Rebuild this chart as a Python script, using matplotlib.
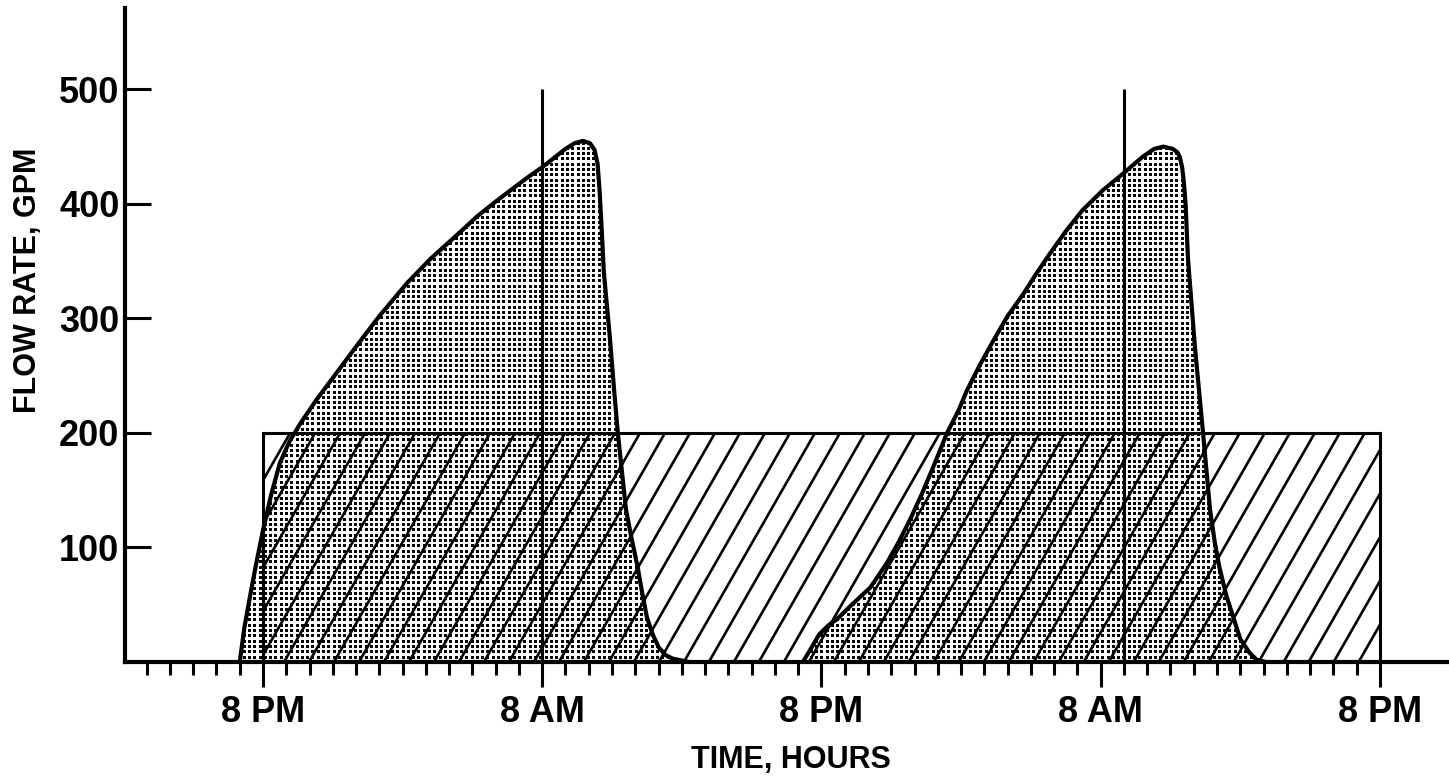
import numpy as np
import matplotlib
matplotlib.use("Agg")
import matplotlib.pyplot as plt
from matplotlib.patches import Rectangle

# Time axis in hours, measured from 8 PM of the first evening
hours_a = [-1.0, -0.8, -0.56, -0.3, 0.0, 0.35, 0.73, 1.15, 1.6, 2.3, 3.0, 4.1,
           5.0, 6.2, 7.2, 8.4, 9.2, 10.0, 11.3, 12.0, 12.5, 13.0, 13.4, 13.75,
           14.05, 14.25, 14.38, 14.47, 14.55, 14.65, 14.9, 15.1, 15.25, 15.6,
           15.85, 16.1, 16.3, 16.5, 16.75, 17.0, 17.3, 17.6, 18.3]
flow_a = [0, 30, 57, 85, 115, 146, 174, 193, 208, 229, 248, 278,
          302, 331, 352, 374, 389, 402, 422, 432, 440, 448, 453, 455,
          453, 447, 435, 410, 380, 340, 285, 235, 200, 133,
          107, 83, 60, 39, 24, 13, 6, 3, 0]

hours_b = [23.2, 23.5, 23.9, 24.3, 24.7, 25.2, 26.1, 26.8, 27.3, 27.8, 28.3,
           28.8, 29.4, 29.9, 30.25, 30.8, 31.4, 32.0, 32.7, 33.2, 33.8, 34.5,
           35.2, 36.1, 37.0, 37.8, 38.3, 38.7, 39.1, 39.3, 39.4, 39.5, 39.57,
           39.65, 39.75, 40.05, 40.4, 40.7, 40.9, 41.1, 41.4, 41.7, 42.0,
           42.4, 42.7, 43.1]
flow_b = [0, 10, 24, 32, 38, 48, 65, 86, 104, 124, 146,
          170, 200, 220, 237, 259, 281, 302, 322, 338, 356, 376,
          394, 412, 427, 441, 448, 450, 448, 445, 441, 432, 420,
          400, 353, 275, 200, 133, 105, 83, 58, 39, 20,
          8, 2, 0]

# constant pumping rate over two days
pump_start, pump_end, pump_rate = 0, 48, 200

# reference verticals (hours) and their height
marker_hours = [12, 37]
marker_top = 500

major_ticks = [0, 12, 24, 36, 48]
major_labels = ["8 PM", "8 AM", "8 PM", "8 AM", "8 PM"]
minor_ticks = list(range(-5, 49))
y_ticks = [100, 200, 300, 400, 500]
y_labels = ["100", "200", "300", "400", "500"]

W, H, DPI = 1449, 783, 100
fig = plt.figure(figsize=(W / DPI, H / DPI), dpi=DPI)
ax_left, ax_bottom, ax_right, ax_top = 125, 662, 1449, 8
ax = fig.add_axes([ax_left / W, (H - ax_bottom) / H,
                   (ax_right - ax_left) / W, (ax_bottom - ax_top) / H])
xmin, xmax = -5.93, 50.97
ymin, ymax = 0, 571
ax.set_xlim(xmin, xmax)
ax.set_ylim(ymin, ymax)

font = ["Liberation Sans", "DejaVu Sans"]

# stippled texture, clipped to the area under each demand curve
pw, ph = ax_right - ax_left, ax_bottom - ax_top
tex = np.zeros((ph, pw, 4))
step = 5.3
rows = np.round(np.arange(1, ph - 3, step)).astype(int)
cols = np.round(np.arange(1, pw - 3, step)).astype(int)
for r in rows:
    for dr in (0, 1, 2):
        for dc in (0, 1, 2):
            tex[r + dr, cols + dc, 3] = 1.0

for hx, fy in ((hours_a, flow_a), (hours_b, flow_b)):
    poly = ax.fill_between(hx, fy, 0, facecolor="none", edgecolor="none")
    im = ax.imshow(tex, extent=(xmin, xmax, ymin, ymax), aspect="auto",
                   interpolation="nearest", zorder=1)
    im.set_clip_path(poly.get_paths()[0], poly.get_transform())

# pumping rectangle with diagonal hatching
rect = Rectangle((pump_start, 0), pump_end - pump_start, pump_rate,
                 facecolor="none", edgecolor="black", lw=2.2, zorder=3)
ax.add_patch(rect)
slope = 35.5          # flow units per hour along a hatch line
spacing = 1.074       # hours between hatch lines
for hb in np.arange(42.79 + 10 * spacing, -12, -spacing):
    ln, = ax.plot([hb, hb + pump_rate / slope], [0, pump_rate],
                  color="black", lw=1.9, zorder=2, solid_capstyle="butt")
    ln.set_clip_path(rect)

# demand curves
for hx, fy in ((hours_a, flow_a), (hours_b, flow_b)):
    ax.plot(hx, fy, color="black", lw=3.0, zorder=4,
            solid_joinstyle="round", solid_capstyle="round")

ax.vlines(marker_hours, 0, marker_top, color="black", lw=2.2, zorder=3)

# axes styling
for s in ("top", "right"):
    ax.spines[s].set_visible(False)
for s in ("left", "bottom"):
    ax.spines[s].set_linewidth(3.0)
    ax.spines[s].set_zorder(5)

ax.set_xticks(major_ticks)
ax.set_xticklabels(major_labels)
ax.set_xticks(minor_ticks, minor=True)
ax.tick_params(axis="x", which="major", direction="out", length=18,
               width=2.2, pad=6)
ax.tick_params(axis="x", which="minor", direction="out", length=9,
               width=2.2)
ax.set_yticks(y_ticks)
ax.set_yticklabels(y_labels)
ax.tick_params(axis="y", which="major", direction="in", length=19,
               width=2.2, pad=4)
for lab in ax.get_xticklabels() + ax.get_yticklabels():
    lab.set_fontfamily(font)
    lab.set_fontweight("bold")
    lab.set_fontsize(26)

fig.text(28 / W, 1 - 280 / H, "FLOW RATE, GPM", rotation=90,
         ha="center", va="center", fontsize=22, fontweight="bold",
         family=font)
fig.text(791 / W, 1 - 760 / H, "TIME, HOURS", ha="center",
         va="center", fontsize=22, fontweight="bold", family=font)

fig.savefig("out.png", dpi=DPI)
